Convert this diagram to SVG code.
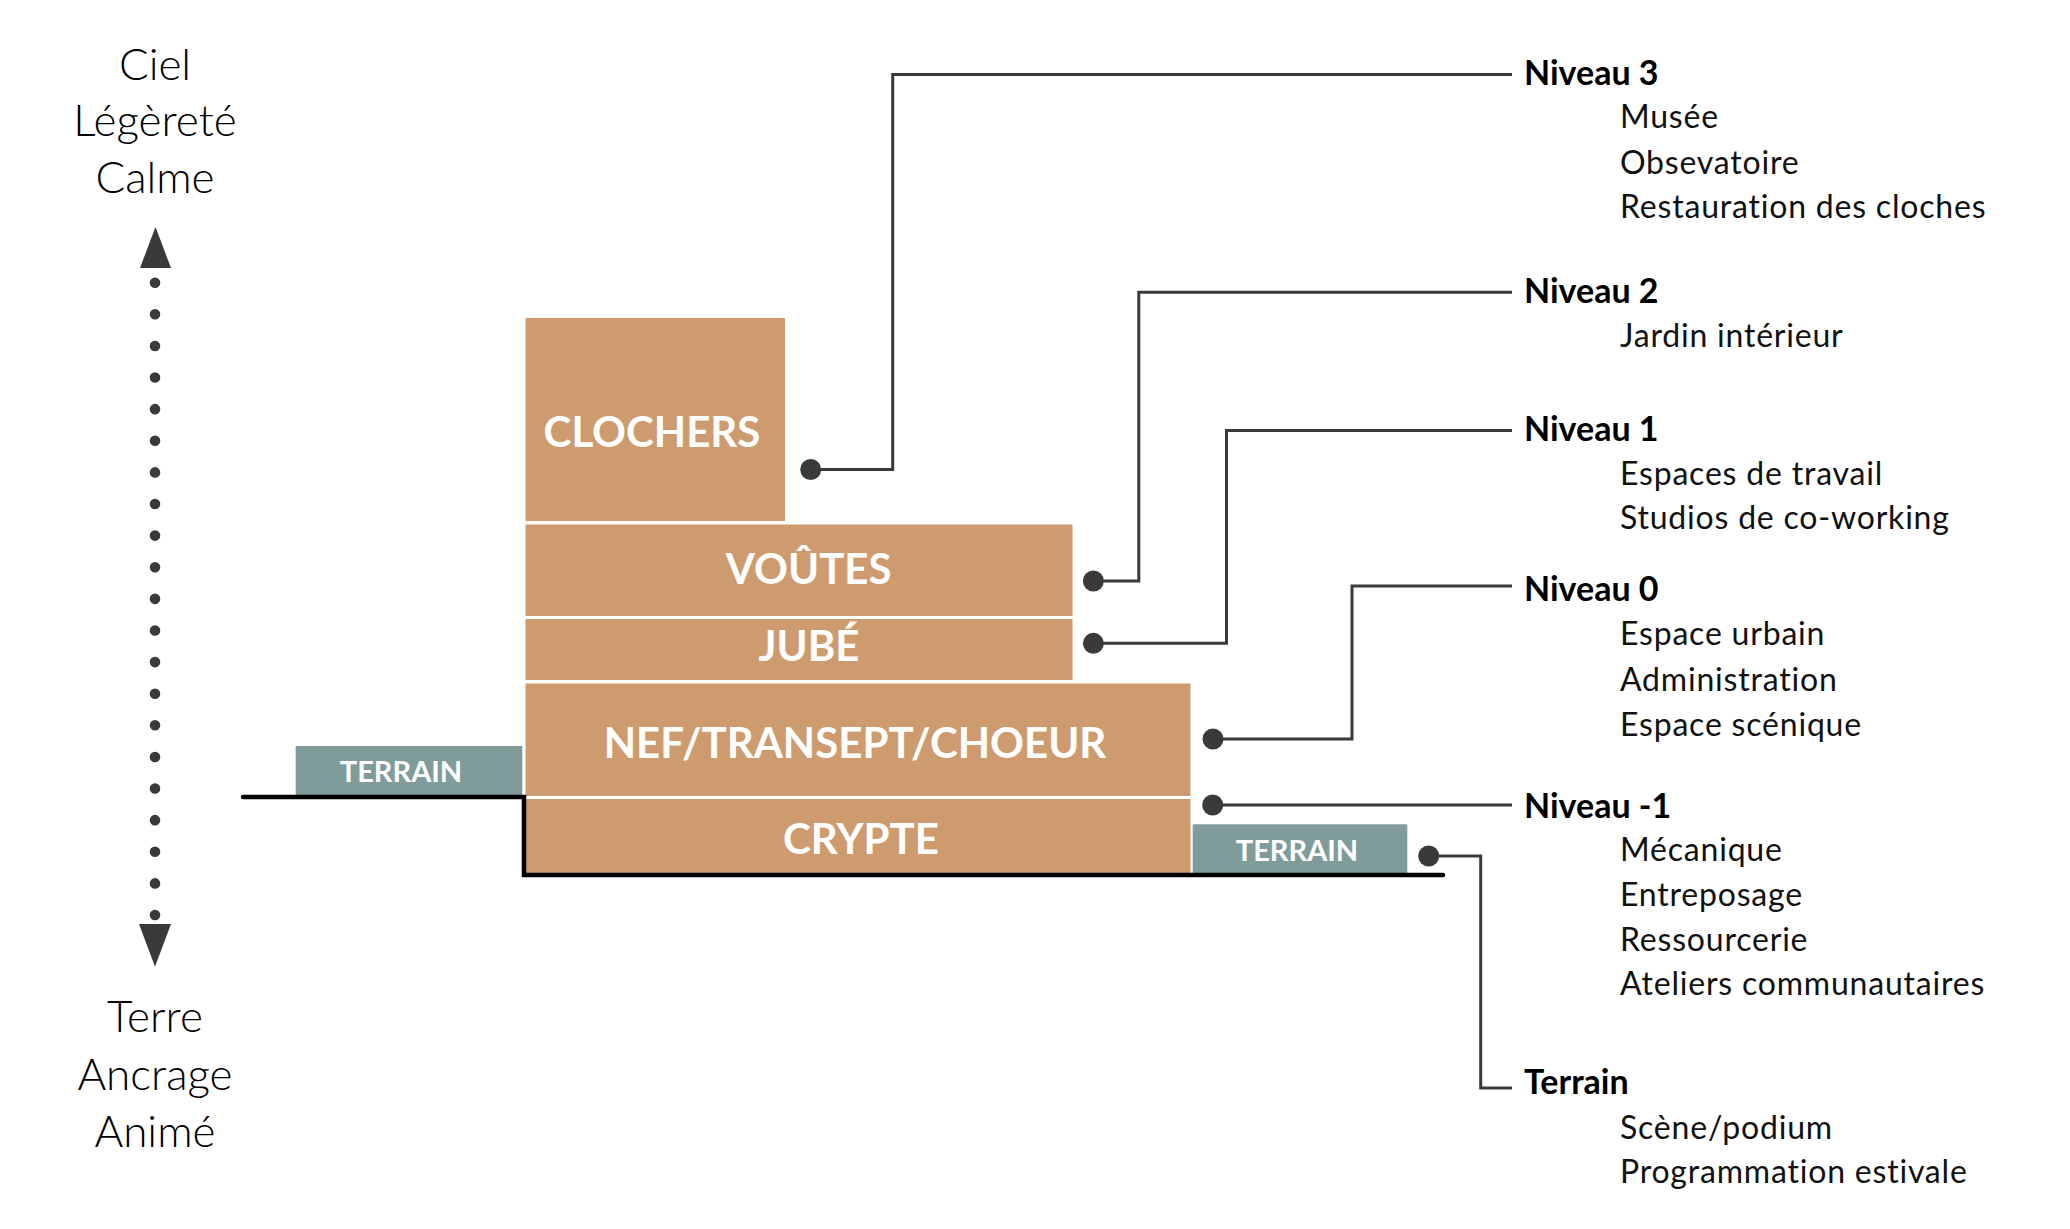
<svg xmlns="http://www.w3.org/2000/svg" width="2070" height="1229" viewBox="0 0 2070 1229">
  <style>
    .tan { fill: #CE9B6E; }
    .teal { fill: #7F9C9A; }
    .blabel { font-family: Lato, "Open Sans", "Liberation Sans", sans-serif; font-weight: 700; fill: #FFFFFF; text-anchor: middle; }
    .big { font-size: 42px; }
    .small { font-size: 29px; }
    .axis { font-family: Lato, "Open Sans", "Liberation Sans", sans-serif; font-weight: 300; font-size: 44px; fill: #000000; text-anchor: middle; }
    .head { font-family: Lato, "Open Sans", "Liberation Sans", sans-serif; font-weight: 700; font-size: 34px; fill: #000000; }
    .item { font-family: Lato, "Open Sans", "Liberation Sans", sans-serif; font-weight: 400; font-size: 32px; letter-spacing: 0.8px; fill: #111111; }
    .conn { fill: none; stroke: #3A3A3A; stroke-width: 3; }
    .dot { fill: #3A3A3A; }
  </style>
  <rect x="0" y="0" width="2070" height="1229" fill="#FFFFFF"/>

  <g id="axis">
    <text class="axis" x="155" y="80">Ciel</text>
    <text class="axis" x="155" y="136">Légèreté</text>
    <text class="axis" x="155" y="193">Calme</text>
    <polygon points="140,268 171,268 155.5,227" fill="#3A3A3A"/>
    <line x1="155" y1="282.7" x2="155" y2="915.5" stroke="#3A3A3A" stroke-width="10.6" stroke-linecap="round" stroke-dasharray="0 31.615"/>
    <polygon points="139,924 171,924 155,966.7" fill="#3A3A3A"/>
    <text class="axis" x="155" y="1032">Terre</text>
    <text class="axis" x="155" y="1090">Ancrage</text>
    <text class="axis" x="155" y="1146.7">Animé</text>
  </g>

  <g id="clochers">
    <rect class="tan" x="525.5" y="318" width="259.5" height="203"/>
    <text class="blabel big" x="652" y="446.8">CLOCHERS</text>
  </g>
  <g id="voutes">
    <rect class="tan" x="525.5" y="524.5" width="547" height="91.5"/>
    <text class="blabel big" x="808.7" y="583.6">VOÛTES</text>
  </g>
  <g id="jube">
    <rect class="tan" x="525.5" y="619" width="547" height="61"/>
    <text class="blabel big" x="809" y="660.6">JUBÉ</text>
  </g>
  <g id="nef">
    <rect class="tan" x="525.5" y="683.5" width="665" height="112.5"/>
    <text class="blabel big" x="855" y="758.3">NEF/TRANSEPT/CHOEUR</text>
  </g>
  <g id="crypte">
    <rect class="tan" x="525.5" y="799" width="665" height="76"/>
    <text class="blabel big" x="861" y="854">CRYPTE</text>
  </g>
  <g id="terrain-left">
    <rect class="teal" x="295.7" y="746" width="226.6" height="49"/>
    <text class="blabel small" x="401" y="782.3">TERRAIN</text>
  </g>
  <g id="terrain-right">
    <rect class="teal" x="1192.7" y="824.3" width="214.6" height="49"/>
    <text class="blabel small" x="1297" y="860.7">TERRAIN</text>
  </g>
  <g id="ground">
    <path d="M243,797 H524 V875 H1443" fill="none" stroke="#000000" stroke-width="4.5" stroke-linecap="round" stroke-linejoin="miter"/>
  </g>

  <g id="connectors">
    <path class="conn" d="M810.7,469.5 H892.7 V74.5 H1512"/>
    <path class="conn" d="M1093.4,581 H1138.8 V292.2 H1512"/>
    <path class="conn" d="M1093.4,643.3 H1226.5 V430.4 H1512"/>
    <path class="conn" d="M1213,739 H1352 V586 H1512"/>
    <path class="conn" d="M1212.7,805 H1512"/>
    <path class="conn" d="M1428.7,856 H1480.7 V1088 H1512"/>
    <circle class="dot" cx="810.7" cy="469.5" r="10.5"/>
    <circle class="dot" cx="1093.4" cy="581" r="10.5"/>
    <circle class="dot" cx="1093.4" cy="643.3" r="10.5"/>
    <circle class="dot" cx="1213" cy="739" r="10.5"/>
    <circle class="dot" cx="1212.7" cy="805" r="10.5"/>
    <circle class="dot" cx="1428.7" cy="856" r="10.5"/>
  </g>

  <g id="niveau3">
    <text class="head" x="1524" y="85">Niveau 3</text>
    <text class="item" x="1620" y="128.4">Musée</text>
    <text class="item" x="1620" y="174.3">Obsevatoire</text>
    <text class="item" x="1620" y="218.4">Restauration des cloches</text>
  </g>
  <g id="niveau2">
    <text class="head" x="1524" y="302.7">Niveau 2</text>
    <text class="item" x="1620" y="346.7">Jardin intérieur</text>
  </g>
  <g id="niveau1">
    <text class="head" x="1524" y="440.6">Niveau 1</text>
    <text class="item" x="1620" y="484.7">Espaces de travail</text>
    <text class="item" x="1620" y="528.7">Studios de co-working</text>
  </g>
  <g id="niveau0">
    <text class="head" x="1524" y="600.7">Niveau 0</text>
    <text class="item" x="1620" y="645.3">Espace urbain</text>
    <text class="item" x="1620" y="690.7">Administration</text>
    <text class="item" x="1620" y="736">Espace scénique</text>
  </g>
  <g id="niveau-1">
    <text class="head" x="1524" y="817.6">Niveau -1</text>
    <text class="item" x="1620" y="861">Mécanique</text>
    <text class="item" x="1620" y="906.4">Entreposage</text>
    <text class="item" x="1620" y="951">Ressourcerie</text>
    <text class="item" x="1620" y="995">Ateliers communautaires</text>
  </g>
  <g id="terrain">
    <text class="head" x="1524" y="1093.6">Terrain</text>
    <text class="item" x="1620" y="1138.7">Scène/podium</text>
    <text class="item" x="1620" y="1183.3">Programmation estivale</text>
  </g>
</svg>
